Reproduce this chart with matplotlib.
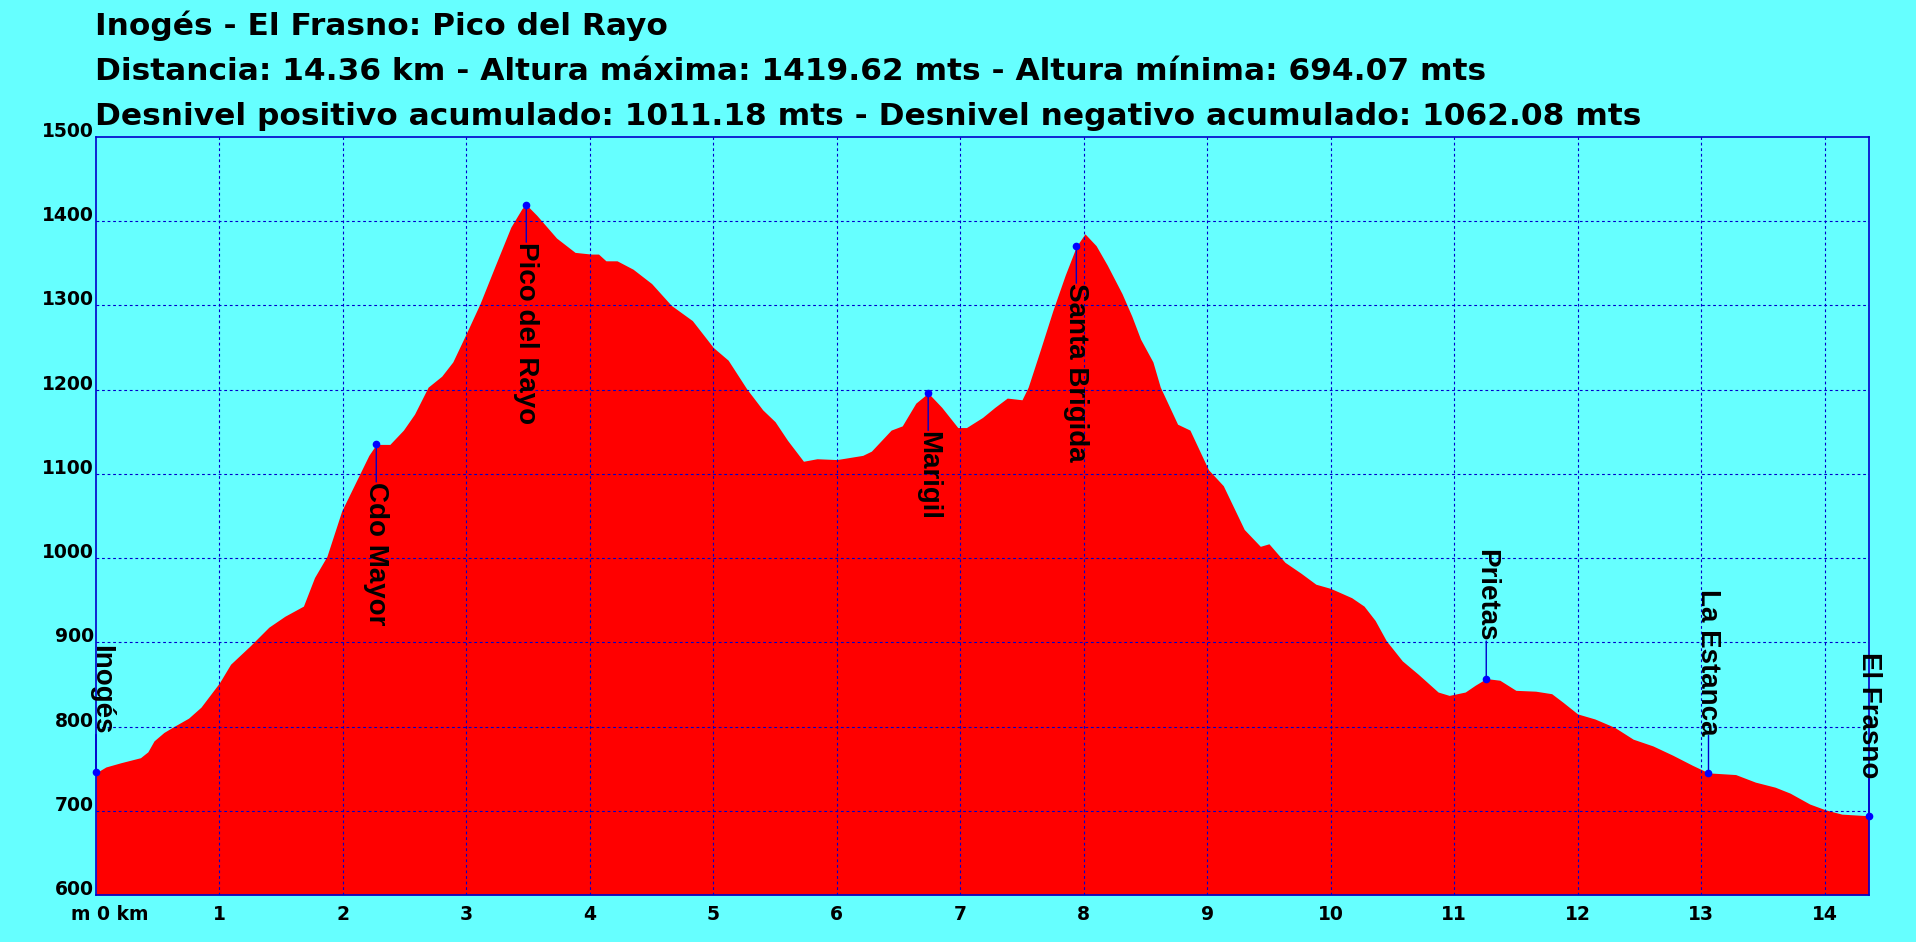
import matplotlib
matplotlib.use('Agg')
import matplotlib.pyplot as plt
from matplotlib.transforms import offset_copy

# ---------------- datos del perfil ----------------
distancia_km = [0.00, 0.08, 0.20, 0.36, 0.42, 0.47, 0.55, 0.63, 0.75, 0.85,
                1.00, 1.09, 1.25, 1.40, 1.53, 1.68, 1.77, 1.87, 1.99, 2.12,
                2.21, 2.27, 2.38, 2.49, 2.58, 2.69, 2.80, 2.89, 3.00, 3.11,
                3.23, 3.36, 3.45, 3.485, 3.57, 3.73, 3.88, 4.01, 4.07, 4.13,
                4.22, 4.35, 4.50, 4.66, 4.83, 5.00, 5.12, 5.27, 5.40, 5.50,
                5.60, 5.73, 5.84, 6.00, 6.21, 6.28, 6.44, 6.53, 6.64, 6.74,
                6.85, 6.98, 7.05, 7.18, 7.28, 7.38, 7.50, 7.55, 7.65, 7.75,
                7.85, 7.94, 8.01, 8.10, 8.19, 8.31, 8.39, 8.46, 8.56, 8.62,
                8.76, 8.86, 9.01, 9.13, 9.30, 9.43, 9.50, 9.63, 9.76, 9.88,
                10.00, 10.17, 10.27, 10.36, 10.45, 10.58, 10.71, 10.87, 10.96, 11.09,
                11.17, 11.26, 11.37, 11.50, 11.66, 11.79, 11.88, 12.00, 12.14, 12.30,
                12.45, 12.61, 12.77, 12.93, 13.06, 13.28, 13.44, 13.60, 13.72, 13.88,
                14.01, 14.14, 14.36]
altura_m = [745, 752, 757, 763, 770, 783, 793, 800, 810, 823,
            852, 874, 896, 918, 931, 943, 977, 1002, 1056, 1095,
            1122, 1135, 1135, 1152, 1171, 1203, 1216, 1233, 1267, 1302,
            1346, 1393, 1415, 1419.62, 1407, 1380, 1363, 1361, 1361, 1353,
            1353, 1343, 1326, 1300, 1282, 1250, 1235, 1201, 1176, 1162,
            1140, 1115, 1118, 1117, 1122, 1127, 1152, 1157, 1184, 1196,
            1179, 1155, 1155, 1167, 1179, 1190, 1188, 1203, 1248, 1294,
            1336, 1370, 1385, 1371, 1348, 1314, 1287, 1260, 1233, 1203,
            1159, 1152, 1105, 1086, 1034, 1014, 1017, 995, 982, 969,
            964, 953, 943, 926, 902, 878, 862, 841, 837, 841,
            849, 857, 855, 843, 842, 839, 829, 815, 809, 799,
            785, 777, 766, 754, 745, 743, 734, 728, 721, 708,
            701, 696, 694.07]

# puntos de paso
wp_nombres = ['Inogés', 'Cdo Mayor', 'Pico del Rayo', 'Marigil', 'Santa Brigida',
              'Prietas', 'La Estanca', 'El Frasno']
wp_km = [0.0, 2.27, 3.485, 6.74, 7.94, 11.26, 13.06, 14.36]
wp_alt = [746, 1135, 1419.62, 1196, 1371, 857, 745, 694.07]
wp_arriba = [True, False, False, False, False, True, True, True]

eje_y = [600, 700, 800, 900, 1000, 1100, 1200, 1300, 1400, 1500]
eje_x = [1, 2, 3, 4, 5, 6, 7, 8, 9, 10, 11, 12, 13, 14]

titulos = ['Inogés - El Frasno: Pico del Rayo',
           'Distancia: 14.36 km - Altura máxima: 1419.62 mts - Altura mínima: 694.07 mts',
           'Desnivel positivo acumulado: 1011.18 mts - Desnivel negativo acumulado: 1062.08 mts']

CIAN = '#66ffff'
AZUL = '#0000cc'
ROJO = '#ff0000'
FUENTE = 'Liberation Sans'
FUENTE_EJES = 'DejaVu Sans'

W, H = 1916, 942
fig = plt.figure(figsize=(W / 100, H / 100), dpi=100, facecolor=CIAN)
ax = fig.add_axes([96 / W, 1 - 895 / H, (1869 - 96) / W, (895 - 137) / H])
ax.set_facecolor(CIAN)

# ---------------- perfil ----------------
ax.fill_between(distancia_km, altura_m, 600, color=ROJO, linewidth=0, zorder=1)

ax.set_xlim(0, 14.36)
ax.set_ylim(600, 1500)

# rejilla
for v in eje_x:
    ax.axvline(v, color=AZUL, linestyle=(0, (2.5, 2.5)), linewidth=0.8, zorder=2)
for v in eje_y[1:-1]:
    ax.axhline(v, color=AZUL, linestyle=(0, (2.5, 2.5)), linewidth=0.8, zorder=2)

for s in ax.spines.values():
    s.set_color(AZUL)
    s.set_linewidth(1.2)

# ejes
ax.set_xticks(eje_x)
ax.set_xticklabels([str(v) for v in eje_x], fontsize=13.5, fontweight='bold', family=FUENTE_EJES)
ax.set_yticks([])
ax.tick_params(axis='x', length=0, pad=7)
for v in eje_y:
    ax.annotate(str(v), xy=(0, v), xycoords=ax.get_yaxis_transform(), xytext=(-1.5, 0),
                textcoords='offset points', ha='right', va='baseline',
                fontsize=13.5, fontweight='bold', family=FUENTE_EJES)
ax.annotate('m 0 km', xy=(0, 0), xycoords='axes fraction', xytext=(9.6, -7),
            textcoords='offset points', ha='center', va='top',
            fontsize=13.5, fontweight='bold', family=FUENTE_EJES)

# ---------------- puntos de paso ----------------
for nombre, x, y, arriba in zip(wp_nombres, wp_km, wp_alt, wp_arriba):
    dy = 27 if arriba else -27
    dx = 4 if x == 0 else 0
    ax.annotate('', xy=(x, y), xytext=(0, dy), textcoords='offset points',
                arrowprops=dict(arrowstyle='-', color=AZUL, lw=1, shrinkA=0, shrinkB=0),
                annotation_clip=False, zorder=3)
    ax.plot(x, y, 'o', color='#0000ff', markersize=4.5, zorder=4, clip_on=False)
    trans = offset_copy(ax.transData, fig=fig, x=dx, y=dy, units='points')
    ax.text(x, y, nombre, transform=trans, rotation=-90, ha='center',
            va='bottom' if arriba else 'top', fontsize=20, fontweight='bold',
            family=FUENTE, zorder=5)

# ---------------- titulos ----------------
for i, t in enumerate(titulos):
    fig.text(95 / W, 1 - (35 + 45 * i) / H, t, ha='left', va='baseline',
             fontsize=22.5, fontweight='bold', family='DejaVu Sans')

fig.savefig('out.png', dpi=100, facecolor=CIAN)
